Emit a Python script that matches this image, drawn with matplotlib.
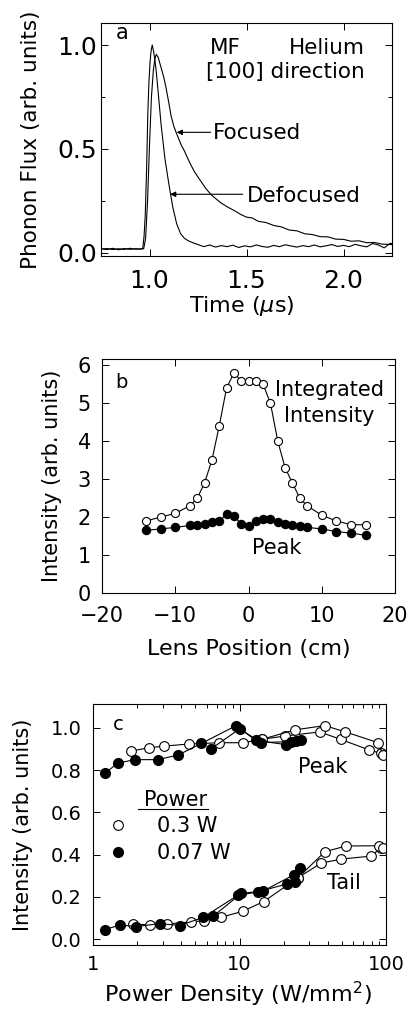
import matplotlib
matplotlib.use('Agg')
import matplotlib.pyplot as plt
import matplotlib.ticker as ticker
from matplotlib.lines import Line2D

plt.rcParams['font.family'] = ['DejaVu Sans']
plt.rcParams['mathtext.fontset'] = 'dejavusans'

# (a) phonon flux traces, time in microseconds
t_defocused = [0.75, 0.78, 0.81, 0.84, 0.87, 0.90, 0.93, 0.95, 0.965, 0.972, 0.978, 0.985,
               0.991, 0.997, 1.003, 1.008, 1.014, 1.020, 1.026, 1.034, 1.043, 1.06, 1.08, 1.10,
               1.12, 1.14, 1.16, 1.18, 1.20, 1.22, 1.25, 1.28, 1.31, 1.34, 1.37, 1.40, 1.43,
               1.46, 1.49, 1.52, 1.55, 1.58, 1.61, 1.64, 1.67, 1.70, 1.73, 1.76, 1.79, 1.82,
               1.85, 1.88, 1.91, 1.94, 1.97, 2.00, 2.03, 2.06, 2.09, 2.12, 2.15, 2.18, 2.21,
               2.24, 2.25]
flux_defocused = [0.020, 0.016, 0.022, 0.015, 0.021, 0.017, 0.020, 0.018, 0.020, 0.08, 0.18, 0.40,
                  0.66, 0.82, 0.92, 0.97, 1.00, 0.975, 0.94, 0.88, 0.79, 0.615, 0.45, 0.33,
                  0.22, 0.14, 0.093, 0.070, 0.058, 0.050, 0.040, 0.030, 0.038, 0.028, 0.035, 0.030, 0.037,
                  0.026, 0.034, 0.029, 0.038, 0.031, 0.027, 0.036, 0.030, 0.039, 0.033, 0.028, 0.035, 0.030,
                  0.038, 0.029, 0.034, 0.040, 0.031, 0.036, 0.030, 0.041, 0.034, 0.029, 0.045, 0.038, 0.024,
                  0.046, 0.045]

t_focused = [0.75, 0.78, 0.81, 0.84, 0.87, 0.90, 0.93, 0.95, 0.97, 0.98, 0.99, 1.00, 1.01, 1.02,
             1.028, 1.035, 1.045, 1.06, 1.075, 1.086, 1.10, 1.111, 1.125, 1.137, 1.15, 1.163,
             1.18, 1.197, 1.215, 1.232, 1.25, 1.266, 1.29, 1.318, 1.34, 1.369, 1.40, 1.438,
             1.47, 1.50, 1.53, 1.56, 1.60, 1.64, 1.68, 1.72, 1.76, 1.80, 1.84, 1.88, 1.92,
             1.96, 2.00, 2.04, 2.08, 2.12, 2.16, 2.20, 2.25]
flux_focused = [0.018, 0.021, 0.016, 0.020, 0.017, 0.022, 0.018, 0.019, 0.02, 0.07, 0.25, 0.52, 0.75, 0.88,
                0.935, 0.955, 0.94, 0.89, 0.84, 0.79, 0.72, 0.66, 0.61, 0.58, 0.55, 0.52,
                0.49, 0.455, 0.42, 0.39, 0.365, 0.343, 0.31, 0.28, 0.262, 0.24, 0.222, 0.203,
                0.185, 0.172, 0.168, 0.152, 0.146, 0.132, 0.125, 0.110, 0.106, 0.092, 0.088, 0.078, 0.077,
                0.066, 0.065, 0.056, 0.058, 0.049, 0.050, 0.042, 0.040]

# (b) intensity vs lens position (cm)
lens_pos = [-14, -12, -10, -8, -7, -6, -5, -4, -3, -2, -1, 0, 1, 2, 3, 4, 5, 6, 7, 8, 10, 12, 14, 16]
integrated = [1.9, 2.0, 2.1, 2.3, 2.5, 2.9, 3.5, 4.4, 5.4, 5.8, 5.6, 5.6, 5.6, 5.5, 5.0, 4.0,
              3.3, 2.9, 2.5, 2.3, 2.05, 1.9, 1.8, 1.8]
peak_b = [1.65, 1.69, 1.73, 1.78, 1.80, 1.82, 1.86, 1.89, 2.08, 2.02, 1.83, 1.77, 1.89, 1.95,
          1.96, 1.86, 1.83, 1.78, 1.76, 1.73, 1.69, 1.62, 1.58, 1.52]

# (c) peak and tail intensity vs power density (W/mm^2), two sweeps per series
pd_hi_peak_1 = [1.83, 2.41, 3.05, 4.54, 7.3, 10.6, 14.2, 20.5, 35.3, 49.0, 76.6, 92.0]
hi_peak_1 = [0.89, 0.905, 0.913, 0.923, 0.929, 0.929, 0.945, 0.961, 0.98, 0.945, 0.895, 0.879]
pd_hi_peak_2 = [14.2, 24.0, 38.1, 52.9, 87.6, 96.0]
hi_peak_2 = [0.945, 0.99, 1.01, 0.98, 0.93, 0.87]

pd_lo_peak_1 = [1.21, 1.47, 1.92, 2.76, 3.82, 5.5, 9.5, 12.9, 20.8, 24.2]
lo_peak_1 = [0.785, 0.832, 0.849, 0.849, 0.871, 0.926, 1.01, 0.94, 0.92, 0.935]
pd_lo_peak_2 = [6.4, 10.0, 14.1, 22.4, 26.3]
lo_peak_2 = [0.90, 0.994, 0.93, 0.934, 0.942]

pd_hi_tail_1 = [1.88, 2.45, 3.18, 4.64, 5.72, 7.46, 10.5, 14.6, 25.0, 36.0, 49.5, 78.6, 92.0]
hi_tail_1 = [0.072, 0.068, 0.072, 0.082, 0.088, 0.104, 0.132, 0.178, 0.29, 0.36, 0.379, 0.393, 0.43]
pd_hi_tail_2 = [25.0, 38.3, 53.5, 89.6, 96.0]
hi_tail_2 = [0.29, 0.414, 0.441, 0.442, 0.43]

pd_lo_tail_1 = [1.21, 1.53, 1.97, 2.86, 3.92, 5.66, 9.7, 13.3, 21.2, 24.0]
lo_tail_1 = [0.046, 0.068, 0.060, 0.074, 0.065, 0.104, 0.207, 0.224, 0.262, 0.272]
pd_lo_tail_2 = [6.63, 10.3, 14.5, 23.4, 25.8]
lo_tail_2 = [0.110, 0.217, 0.228, 0.304, 0.338]

power_labels = ['0.3 W', '0.07 W']

W, H = 408, 1017
fig = plt.figure(figsize=(W / 100, H / 100), dpi=100)


def add_axes(left, top, right, bottom):
    # pixel box -> figure fraction
    return fig.add_axes([left / W, 1 - bottom / H, (right - left) / W, (bottom - top) / H])


def style_axes(ax, size):
    ax.tick_params(which='both', direction='in', top=True, right=True, width=0.7,
                   labelsize=size)
    ax.tick_params(which='major', length=5)
    ax.tick_params(which='minor', length=3)
    for s in ax.spines.values():
        s.set_linewidth(0.8)


lw = 0.8

# ---- panel a ----
ax1 = add_axes(101, 23, 392, 256)
ax1.plot(t_defocused, flux_defocused, color='black', lw=lw)
ax1.plot(t_focused, flux_focused, color='black', lw=lw)
ax1.set_xlim(0.75, 2.25)
ax1.set_ylim(-0.015, 1.106)
ax1.xaxis.set_major_locator(ticker.MultipleLocator(0.5))
ax1.yaxis.set_major_locator(ticker.MultipleLocator(0.5))
ax1.yaxis.set_minor_locator(ticker.MultipleLocator(0.25))
ax1.xaxis.set_major_formatter(ticker.FormatStrFormatter('%.1f'))
ax1.yaxis.set_major_formatter(ticker.FormatStrFormatter('%.1f'))
style_axes(ax1, 18)
ax1.tick_params(axis='y', pad=3)
ax1.tick_params(axis='x', pad=9)
ax1.set_xlabel(r'Time ($\mu$s)', fontsize=16)
ax1.set_ylabel('Phonon Flux (arb. units)', fontsize=15.5)
ax1.xaxis.set_label_coords(0.485, -0.165)
ax1.yaxis.set_label_coords(-0.205, 0.5)
ax1.text(0.861, 1.058, 'a', fontsize=15, ha='center', va='center')
ax1.text(1.392, 0.988, 'MF', fontsize=15.5, ha='center', va='center')
ax1.text(2.111, 0.988, 'Helium', fontsize=15.5, ha='right', va='center')
ax1.text(2.111, 0.87, '[100] direction', fontsize=15.5, ha='right', va='center')
arrow = dict(arrowstyle='-|>', lw=0.8, color='black', mutation_scale=8, shrinkA=0, shrinkB=0)
ax1.annotate('', xy=(1.140, 0.58), xytext=(1.315, 0.58), arrowprops=arrow)
ax1.text(1.327, 0.577, 'Focused', fontsize=15.5, ha='left', va='center')
ax1.annotate('', xy=(1.106, 0.282), xytext=(1.480, 0.282), arrowprops=arrow)
ax1.text(1.503, 0.275, 'Defocused', fontsize=15.5, ha='left', va='center')

# ---- panel b ----
ax2 = add_axes(102, 359, 395, 593)
ax2.plot(lens_pos, integrated, color='black', lw=lw, marker='o', ms=5.8,
         mfc='white', mec='black', mew=0.8)
ax2.plot(lens_pos, peak_b, color='black', lw=lw, marker='o', ms=5.8,
         mfc='black', mec='black')
ax2.set_xlim(-20, 20)
ax2.set_ylim(0, 6.17)
ax2.xaxis.set_major_locator(ticker.MultipleLocator(10))
ax2.yaxis.set_major_locator(ticker.MultipleLocator(1))
style_axes(ax2, 15)
ax2.tick_params(axis='y', pad=8)
ax2.tick_params(axis='x', pad=9)
ax2.set_xlabel('Lens Position (cm)', fontsize=16)
ax2.set_ylabel('Intensity (arb. units)', fontsize=15)
ax2.xaxis.set_label_coords(0.5, -0.195)
ax2.yaxis.set_label_coords(-0.138, 0.5)
ax2.text(-17.4, 5.55, 'b', fontsize=14, ha='center', va='center')
ax2.text(11.0, 5.36, 'Integrated', fontsize=15, ha='center', va='center')
ax2.text(11.0, 4.66, 'Intensity', fontsize=15, ha='center', va='center')
ax2.text(3.9, 1.19, 'Peak', fontsize=15, ha='center', va='center')

# ---- panel c ----
ax3 = add_axes(93, 704, 386, 945)
open_style = dict(color='black', lw=lw, marker='o', ms=7, mfc='white', mec='black', mew=0.8)
fill_style = dict(color='black', lw=lw, marker='o', ms=7, mfc='black', mec='black')
ax3.plot(pd_hi_peak_1, hi_peak_1, **open_style)
ax3.plot(pd_hi_peak_2, hi_peak_2, **open_style)
ax3.plot(pd_hi_tail_1, hi_tail_1, **open_style)
ax3.plot(pd_hi_tail_2, hi_tail_2, **open_style)
ax3.plot(pd_lo_peak_1, lo_peak_1, **fill_style)
ax3.plot(pd_lo_peak_2, lo_peak_2, **fill_style)
ax3.plot(pd_lo_tail_1, lo_tail_1, **fill_style)
ax3.plot(pd_lo_tail_2, lo_tail_2, **fill_style)
ax3.set_xscale('log')
ax3.set_xlim(1, 100)
ax3.set_ylim(-0.027, 1.112)
ax3.yaxis.set_major_locator(ticker.MultipleLocator(0.2))
ax3.yaxis.set_major_formatter(ticker.FormatStrFormatter('%.1f'))
ax3.xaxis.set_major_formatter(ticker.FuncFormatter(lambda v, _: f'{v:g}'))
ax3.xaxis.set_minor_formatter(ticker.NullFormatter())
style_axes(ax3, 14)
ax3.tick_params(axis='y', pad=8)
ax3.tick_params(axis='x', pad=7)
ax3.set_xlabel(r'Power Density (W/mm$^2$)', fontsize=16)
ax3.set_ylabel('Intensity (arb. units)', fontsize=15)
ax3.xaxis.set_label_coords(0.493, -0.145)
ax3.yaxis.set_label_coords(-0.204, 0.5)
ax3.text(1.48, 1.013, 'c', fontsize=14, ha='center', va='center')
ax3.text(37.2, 0.813, 'Peak', fontsize=15, ha='center', va='center')
ax3.text(51.3, 0.265, 'Tail', fontsize=15, ha='center', va='center')

# legend: underlined "Power" heading above the two marker entries
ax3.text(0.282, 0.602, 'Power', fontsize=15, ha='center', va='center',
         transform=ax3.transAxes)
ax3.plot([0.154, 0.392], [0.566, 0.566], transform=ax3.transAxes, color='black',
         lw=0.8, clip_on=False)
handles = [Line2D([], [], ls='none', marker='o', ms=7, mfc='white', mec='black', mew=0.8),
           Line2D([], [], ls='none', marker='o', ms=7, mfc='black', mec='black')]
ax3.legend(handles, power_labels, frameon=False, loc='upper left',
           bbox_to_anchor=(0.051, 0.535), fontsize=15, handlelength=1.0,
           handletextpad=1.35, borderpad=0, borderaxespad=0, labelspacing=0.35)

fig.savefig('out.png', dpi=100)
